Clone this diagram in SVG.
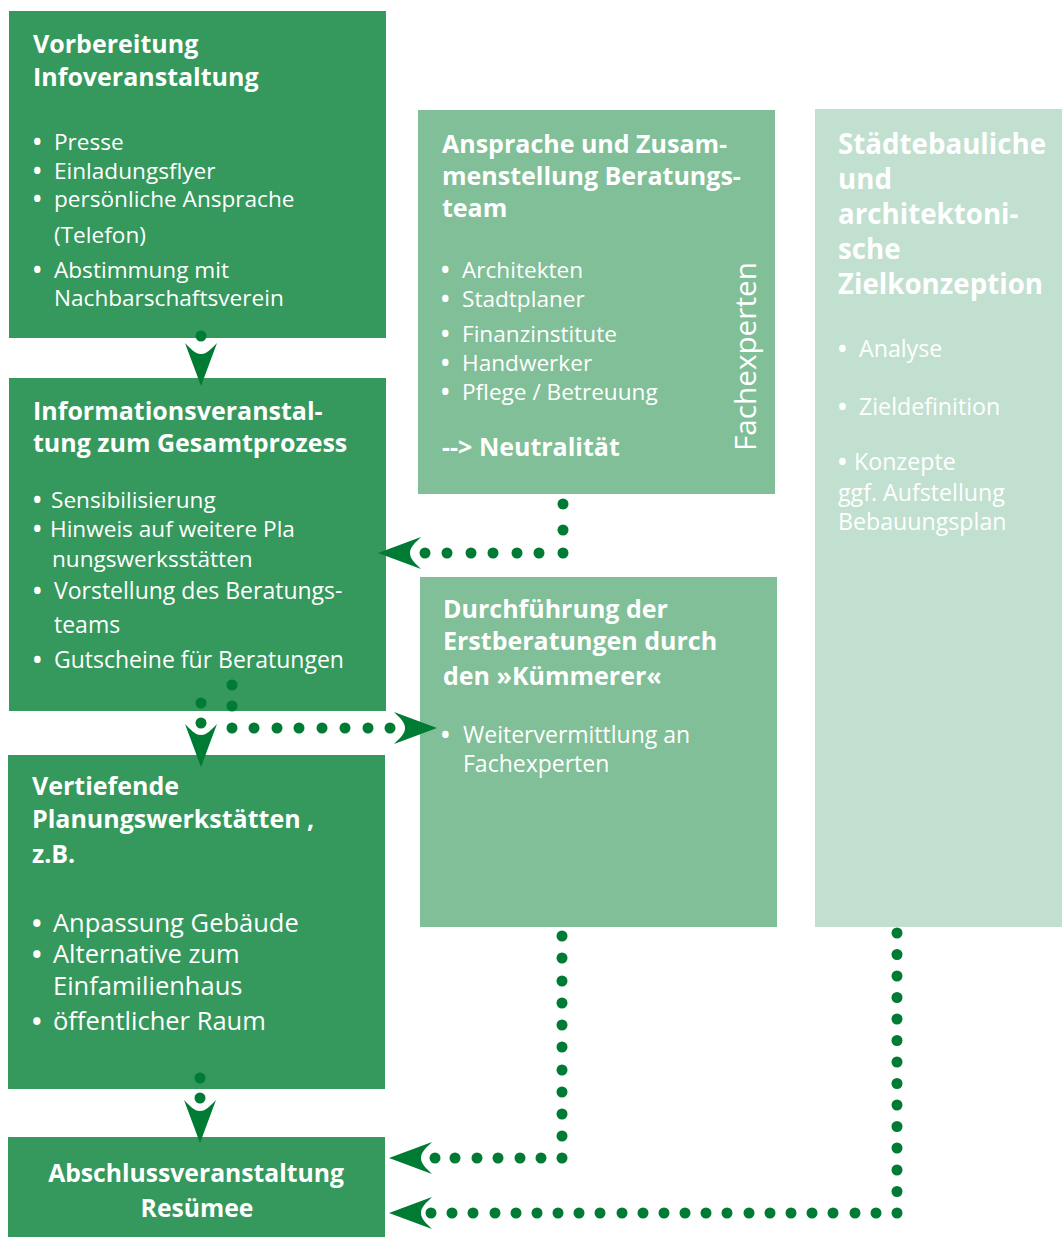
<svg xmlns="http://www.w3.org/2000/svg" xmlns:xlink="http://www.w3.org/1999/xlink" width="1062" height="1237" viewBox="0 0 1062 1237">
<defs>
<style>
text{font-family:"Open Sans","Noto Sans",sans-serif;fill:#fff}
.t{font-weight:700;font-size:25px}
.b{font-size:22.6px}
.bl{font-weight:700}
.dk{fill:#35985c}
.md{fill:#80bf97}
.lt{fill:#c2e0cf}
.dot{fill:#007b34}
</style>
<path id="ah" class="dot" d="M0,0 L-16,-43 C-10,-37 -6,-32 0,-32 C6,-32 10,-37 16,-43 Z"/>
</defs>
<rect width="1062" height="1237" fill="#fff"/>

<g id="box1">
<rect class="dk" x="9" y="11" width="377" height="327"/>
<text class="t" x="33" y="53">Vorbereitung</text>
<text class="t" x="33" y="86">Infoveranstaltung</text>
<text class="b bl" x="33" y="150">•</text><text class="b" x="54" y="150">Presse</text>
<text class="b bl" x="33" y="179">•</text><text class="b" x="54" y="179">Einladungsflyer</text>
<text class="b bl" x="33" y="207">•</text><text class="b" x="54" y="207">persönliche Ansprache</text>
<text class="b" x="54" y="243">(Telefon)</text>
<text class="b bl" x="33" y="278">•</text><text class="b" x="54" y="278">Abstimmung mit</text>
<text class="b" x="54" y="306">Nachbarschaftsverein</text>
</g>

<g id="box2">
<rect class="dk" x="9" y="378" width="377" height="333"/>
<text class="t" x="33" y="420">Informationsveranstal-</text>
<text class="t" x="33" y="452">tung zum Gesamtprozess</text>
<text class="b bl" x="33" y="508">•</text><text class="b" x="51" y="508">Sensibilisierung</text>
<text class="b bl" x="33" y="537">•</text><text class="b" x="50" y="537">Hinweis auf weitere Pla</text>
<text class="b" x="52" y="567">nungswerksstätten</text>
<text class="b bl" x="33" y="599" style="font-size:23px">•</text><text class="b" x="54" y="599" style="font-size:23px">Vorstellung des Beratungs-</text>
<text class="b" x="54" y="633" style="font-size:23px">teams</text>
<text class="b bl" x="33" y="668" style="font-size:23px">•</text><text class="b" x="54" y="668" style="font-size:23px">Gutscheine für Beratungen</text>
</g>

<g id="box3">
<rect class="dk" x="8" y="755" width="377" height="334"/>
<text class="t" x="32" y="795">Vertiefende</text>
<text class="t" x="32" y="828">Planungswerkstätten ,</text>
<text class="t" x="32" y="863">z.B.</text>
<text class="b bl" x="32" y="932" style="font-size:25.5px">•</text><text class="b" x="53" y="932" style="font-size:25.5px">Anpassung Gebäude</text>
<text class="b bl" x="32" y="963" style="font-size:25.5px">•</text><text class="b" x="53" y="963" style="font-size:25.5px">Alternative zum</text>
<text class="b" x="53" y="995" style="font-size:25.5px">Einfamilienhaus</text>
<text class="b bl" x="32" y="1030" style="font-size:25.5px">•</text><text class="b" x="53" y="1030" style="font-size:25.5px">öffentlicher Raum</text>
</g>

<g id="box4">
<rect class="dk" x="8" y="1137" width="377" height="100"/>
<text class="t" x="196" y="1182" text-anchor="middle" style="font-size:24.7px">Abschlussveranstaltung</text>
<text class="t" x="197" y="1217" text-anchor="middle" style="font-size:24.7px">Resümee</text>
</g>

<g id="box5">
<rect class="md" x="418" y="110" width="357" height="384"/>
<text class="t" x="442" y="153">Ansprache und Zusam-</text>
<text class="t" x="442" y="185">menstellung Beratungs-</text>
<text class="t" x="442" y="217">team</text>
<text class="b bl" x="441" y="278">•</text><text class="b" x="462" y="278">Architekten</text>
<text class="b bl" x="441" y="307">•</text><text class="b" x="462" y="307">Stadtplaner</text>
<text class="b bl" x="441" y="342">•</text><text class="b" x="462" y="342">Finanzinstitute</text>
<text class="b bl" x="441" y="371">•</text><text class="b" x="462" y="371">Handwerker</text>
<text class="b bl" x="441" y="400">•</text><text class="b" x="462" y="400">Pflege / Betreuung</text>
<text class="t" x="442" y="456">--&gt; Neutralität</text>
<text class="b" style="font-size:29.7px" transform="translate(756,451) rotate(-90)">Fachexperten</text>
</g>

<g id="box6">
<rect class="md" x="420" y="577" width="357" height="350"/>
<text class="t" x="443" y="618">Durchführung der</text>
<text class="t" x="443" y="650">Erstberatungen durch</text>
<text class="t" x="443" y="685">den »Kümmerer«</text>
<text class="b bl" x="441" y="743" style="font-size:23px">•</text><text class="b" x="463" y="743" style="font-size:23px">Weitervermittlung an</text>
<text class="b" x="463" y="772" style="font-size:23px">Fachexperten</text>
</g>

<g id="box7">
<rect class="lt" x="815" y="109" width="247" height="818"/>
<text class="t" x="838" y="154" style="font-size:27.7px">Städtebauliche</text>
<text class="t" x="838" y="189" style="font-size:27.7px">und</text>
<text class="t" x="838" y="224" style="font-size:27.7px">architektoni-</text>
<text class="t" x="838" y="259" style="font-size:27.7px">sche</text>
<text class="t" x="838" y="294" style="font-size:27.7px">Zielkonzeption</text>
<text class="b bl" x="838" y="357" style="font-size:23.2px">•</text><text class="b" x="859" y="357" style="font-size:23.2px">Analyse</text>
<text class="b bl" x="838" y="415" style="font-size:23.2px">•</text><text class="b" x="859" y="415" style="font-size:23.2px">Zieldefinition</text>
<text class="b bl" x="838" y="470" style="font-size:23.2px">•</text><text class="b" x="854" y="470" style="font-size:23.2px">Konzepte</text>
<text class="b" x="838" y="501" style="font-size:23.2px">ggf. Aufstellung</text>
<text class="b" x="838" y="530" style="font-size:23.2px">Bebauungsplan</text>
</g>

<g id="connectors">
<circle class="dot" cx="201" cy="336" r="5.5"/>
<use xlink:href="#ah" transform="translate(201,386)"/>
<g>
<circle class="dot" cx="563" cy="504" r="5.5"/><circle class="dot" cx="563" cy="530" r="5.5"/><circle class="dot" cx="563" cy="553" r="5.5"/>
<circle class="dot" cx="539" cy="553" r="5.5"/><circle class="dot" cx="517" cy="553" r="5.5"/><circle class="dot" cx="493" cy="553" r="5.5"/><circle class="dot" cx="471" cy="553" r="5.5"/><circle class="dot" cx="447" cy="553" r="5.5"/><circle class="dot" cx="425" cy="553" r="5.5"/>
<use xlink:href="#ah" transform="translate(378,553) rotate(90)"/>
</g>
<g>
<circle class="dot" cx="201" cy="703" r="5.5"/>
<use xlink:href="#ah" transform="translate(201,767)"/>
<circle class="dot" cx="201" cy="723" r="5.5"/>
<circle class="dot" cx="232" cy="685" r="5.5"/><circle class="dot" cx="232" cy="706" r="5.5"/><circle class="dot" cx="232" cy="728" r="5.5"/>
<circle class="dot" cx="254" cy="728" r="5.5"/><circle class="dot" cx="277" cy="728" r="5.5"/><circle class="dot" cx="299" cy="728" r="5.5"/><circle class="dot" cx="322" cy="728" r="5.5"/><circle class="dot" cx="345" cy="728" r="5.5"/><circle class="dot" cx="368" cy="728" r="5.5"/><circle class="dot" cx="390" cy="728" r="5.5"/>
<use xlink:href="#ah" transform="translate(437,728) rotate(-90)"/>
</g>
<g>
<circle class="dot" cx="200" cy="1078" r="5.5"/><circle class="dot" cx="200" cy="1098" r="5.5"/>
<use xlink:href="#ah" transform="translate(200,1143)"/>
</g>
<g>
<circle class="dot" cx="562" cy="936" r="5.5"/><circle class="dot" cx="562" cy="958" r="5.5"/><circle class="dot" cx="562" cy="981" r="5.5"/><circle class="dot" cx="562" cy="1003" r="5.5"/><circle class="dot" cx="562" cy="1025" r="5.5"/><circle class="dot" cx="562" cy="1047" r="5.5"/><circle class="dot" cx="562" cy="1070" r="5.5"/><circle class="dot" cx="562" cy="1092" r="5.5"/><circle class="dot" cx="562" cy="1114" r="5.5"/><circle class="dot" cx="562" cy="1136" r="5.5"/><circle class="dot" cx="562" cy="1158" r="5.5"/>
<circle class="dot" cx="541" cy="1158" r="5.5"/><circle class="dot" cx="520" cy="1158" r="5.5"/><circle class="dot" cx="498" cy="1158" r="5.5"/><circle class="dot" cx="477" cy="1158" r="5.5"/><circle class="dot" cx="455" cy="1158" r="5.5"/><circle class="dot" cx="435" cy="1158" r="5.5"/>
<use xlink:href="#ah" transform="translate(389,1158) rotate(90)"/>
</g>
<g>
<circle class="dot" cx="897" cy="933" r="5.5"/><circle class="dot" cx="897" cy="954.5" r="5.5"/><circle class="dot" cx="897" cy="976" r="5.5"/><circle class="dot" cx="897" cy="997.5" r="5.5"/><circle class="dot" cx="897" cy="1019" r="5.5"/><circle class="dot" cx="897" cy="1040.5" r="5.5"/><circle class="dot" cx="897" cy="1062" r="5.5"/><circle class="dot" cx="897" cy="1083.5" r="5.5"/><circle class="dot" cx="897" cy="1105" r="5.5"/><circle class="dot" cx="897" cy="1126.5" r="5.5"/><circle class="dot" cx="897" cy="1148" r="5.5"/><circle class="dot" cx="897" cy="1170" r="5.5"/><circle class="dot" cx="897" cy="1191.5" r="5.5"/><circle class="dot" cx="897" cy="1213" r="5.5"/>
<circle class="dot" cx="876" cy="1213" r="5.5"/><circle class="dot" cx="855" cy="1213" r="5.5"/><circle class="dot" cx="833" cy="1213" r="5.5"/><circle class="dot" cx="812" cy="1213" r="5.5"/><circle class="dot" cx="791" cy="1213" r="5.5"/><circle class="dot" cx="770" cy="1213" r="5.5"/><circle class="dot" cx="749" cy="1213" r="5.5"/><circle class="dot" cx="727" cy="1213" r="5.5"/><circle class="dot" cx="706" cy="1213" r="5.5"/><circle class="dot" cx="685" cy="1213" r="5.5"/><circle class="dot" cx="664" cy="1213" r="5.5"/><circle class="dot" cx="643" cy="1213" r="5.5"/><circle class="dot" cx="622" cy="1213" r="5.5"/><circle class="dot" cx="600" cy="1213" r="5.5"/><circle class="dot" cx="579" cy="1213" r="5.5"/><circle class="dot" cx="558" cy="1213" r="5.5"/><circle class="dot" cx="537" cy="1213" r="5.5"/><circle class="dot" cx="516" cy="1213" r="5.5"/><circle class="dot" cx="495" cy="1213" r="5.5"/><circle class="dot" cx="473" cy="1213" r="5.5"/><circle class="dot" cx="452" cy="1213" r="5.5"/><circle class="dot" cx="431" cy="1213" r="5.5"/>
<use xlink:href="#ah" transform="translate(389,1213) rotate(90)"/>
</g>
</g>
</svg>
